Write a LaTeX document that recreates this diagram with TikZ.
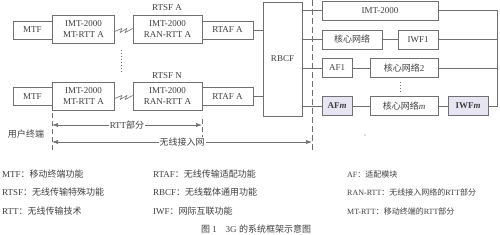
\documentclass[tikz,border=0pt]{standalone}
\usepackage{fontspec}
\setmainfont{Liberation Serif}
\newfontfamily\cjk{Noto Sans CJK SC}
\newcommand{\zh}[1]{{\cjk #1}}
\usetikzlibrary{arrows.meta,calc}
\definecolor{ln}{HTML}{707070}
\definecolor{tx}{HTML}{404040}
\definecolor{lav}{HTML}{E8E5F3}
\tikzset{
  x=1pt,y=-1pt,
  bx/.style={draw=ln,line width=0.6pt,inner sep=0pt,align=center,
    font=\fontsize{9}{11}\selectfont,text=tx},
  lbl/.style={inner sep=0pt,font=\fontsize{9}{11}\selectfont,text=tx},
  lg/.style={anchor=west,inner sep=0pt,font=\fontsize{9}{11}\selectfont,text=tx},
  lgs/.style={lg,font=\fontsize{8}{10}\selectfont},
  cn/.style={draw=ln,line width=0.6pt},
  dsh/.style={draw=ln,line width=0.7pt,dash pattern=on 6pt off 3pt},
  arr/.style={draw=ln,line width=0.6pt,{Latex[length=6pt,width=4pt]}-{Latex[length=6pt,width=4pt]}}
}
\begin{document}
\begin{tikzpicture}
\useasboundingbox[fill=white] (0,0) rectangle (500,235);
% row 1
\node[bx,minimum width=39pt,minimum height=18pt] (mtf1) at (32.5,30) {MTF};
\node[bx,minimum width=62pt,minimum height=28pt] (mt1) at (83.5,29) {IMT-2000\\MT-RTT A};
\node[bx,minimum width=69pt,minimum height=28pt] (ran1) at (167.5,29) {IMT-2000\\RAN-RTT A};
\node[bx,minimum width=51pt,minimum height=18pt] (rtaf1) at (227.5,30) {RTAF A};
\node[lbl] (rtsfa) at (167,8) {RTSF A};
% row 2
\node[bx,minimum width=39pt,minimum height=18pt] (mtf2) at (32.5,96.5) {MTF};
\node[bx,minimum width=62pt,minimum height=28pt] (mt2) at (83.5,96) {IMT-2000\\MT-RTT A};
\node[bx,minimum width=69pt,minimum height=28pt] (ran2) at (167.5,96) {IMT-2000\\RAN-RTT A};
\node[bx,minimum width=51pt,minimum height=18pt] (rtaf2) at (227.5,96.5) {RTAF A};
\node[lbl] (rtsfn) at (167,76) {RTSF N};
% lightning links
\draw[cn] ($(mt1.east)+(0,2.5)$) -- ++(7,-3) -- ++(-1.5,4) -- ++(6.5,-4) -- ++(-1.5,4) -- ($(ran1.west)+(0,-0.5)$);
\draw[cn] ($(mt2.east)+(0,2.5)$) -- ++(7,-3) -- ++(-1.5,4) -- ++(6.5,-4) -- ++(-1.5,4) -- ($(ran2.west)+(0,-0.5)$);
% vertical dots
\coordinate (d1a) at (121,50);
\coordinate (d1b) at (121,72);
\draw[draw=ln,line width=0.8pt,dash pattern=on 1pt off 2pt] (d1a) -- (d1b);
% RBCF
\node[bx,minimum width=39pt,minimum height=114pt] (rbcf) at (282.5,59) {RBCF};
\draw[cn] (rtaf1.east) -- (rtaf1.east -| rbcf.west);
\draw[cn] (rtaf2.east) -- (rtaf2.east -| rbcf.west);
% right side boxes
\node[bx,minimum width=116pt,minimum height=19pt] (imt) at (380,10.5) {IMT-2000};
\node[bx,minimum width=60pt,minimum height=19pt] (cn1) at (352,39.5) {\zh{核心网络}};
\node[bx,minimum width=40pt,minimum height=19pt] (iwf1) at (418,39.5) {IWF1};
\node[bx,minimum width=30pt,minimum height=19pt] (af1) at (337,68) {AF1};
\node[bx,minimum width=68pt,minimum height=19pt] (cn2) at (404,68) {\zh{核心网络}2};
\node[bx,minimum width=30pt,minimum height=19pt,fill=lav] (afm) at (337,106) {\textbf{AF\textit{m}}};
\node[bx,minimum width=68pt,minimum height=19pt] (cnm) at (404,106) {\zh{核心网络}\textit{m}};
\node[bx,minimum width=40pt,minimum height=19pt,fill=lav] (iwfm) at (468,106) {\textbf{IWF\textit{m}}};
\coordinate (d2a) at (400,82);
\coordinate (d2b) at (400,93);
\draw[draw=ln,line width=0.8pt,dash pattern=on 1pt off 2pt] (d2a) -- (d2b);
% RBCF to right boxes
\draw[cn] (rbcf.east |- imt.west) -- (imt.west);
\draw[cn] (rbcf.east |- cn1.west) -- (cn1.west);
\draw[cn] (rbcf.east |- af1.west) -- (af1.west);
\draw[cn] (rbcf.east |- afm.west) -- (afm.west);
\draw[cn] (cn1) -- (iwf1);
\draw[cn] (af1) -- (cn2);
\draw[cn] (afm) -- (cnm);
\draw[cn] (cnm) -- (iwfm);
% bus
\coordinate (bus) at (497,0);
\draw[cn] (imt.east) -- (imt.east -| bus) -- (iwfm.east -| bus) -- (iwfm.east);
\draw[cn] (iwf1.east) -- (iwf1.east -| bus);
\draw[cn] (cn2.east) -- (cn2.east -| bus);
% dashed separator
\coordinate (sepa) at (312,0);
\coordinate (sepb) at (312,152);
\draw[dsh] (sepa) -- (sepb);
% bottom ticks and arrows
\coordinate (t1a) at (52,113);
\coordinate (t1b) at (52,151);
\draw[draw=ln,line width=0.7pt,dash pattern=on 5pt off 3pt] (t1a) -- (t1b);
\coordinate (t2a) at (202,119);
\coordinate (t2b) at (202,137);
\draw[draw=ln,line width=0.7pt,dash pattern=on 5pt off 3pt] (t2a) -- (t2b);
\coordinate (r1) at (52,125);
\coordinate (r2) at (202,125);
\draw[arr] (r1) -- (r2) node[midway,fill=white,inner sep=1pt,font=\fontsize{9}{11}\selectfont,text=tx] (rttl) {RTT\zh{部分}};
\coordinate (w1) at (52,142);
\coordinate (w2) at (312,142);
\draw[arr] (w1) -- (w2) node[midway,fill=white,inner sep=1pt,font=\fontsize{9}{11}\selectfont,text=tx] (ranl) {\zh{无线接入网}};
\node[lbl] (ue) at (26,134) {\zh{用户终端}};
\fill[ln] (365,135) circle (0.7pt);
% legend
\node[lg] (l11) at (2,174) {MTF\zh{：移动终端功能}};
\node[lg] (l12) at (2,192) {RTSF\zh{：无线传输特殊功能}};
\node[lg] (l13) at (2,211) {RTT\zh{：无线传输技术}};
\node[lg] (l21) at (153,174) {RTAF\zh{：无线传输适配功能}};
\node[lg] (l22) at (153,192) {RBCF\zh{：无线载体通用功能}};
\node[lg] (l23) at (153,211) {IWF\zh{：网际互联功能}};
\node[lgs] (l31) at (347,174) {AF\zh{：适配模块}};
\node[lgs] (l32) at (347,192) {RAN-RTT\zh{：无线接入网络的}RTT\zh{部分}};
\node[lgs] (l33) at (347,211) {MT-RTT\zh{：移动终端的}RTT\zh{部分}};
\node[lbl] (cap) at (256,229) {\zh{图}\ 1\quad 3G\ \zh{的系统框架示意图}};
\end{tikzpicture}
\end{document}
